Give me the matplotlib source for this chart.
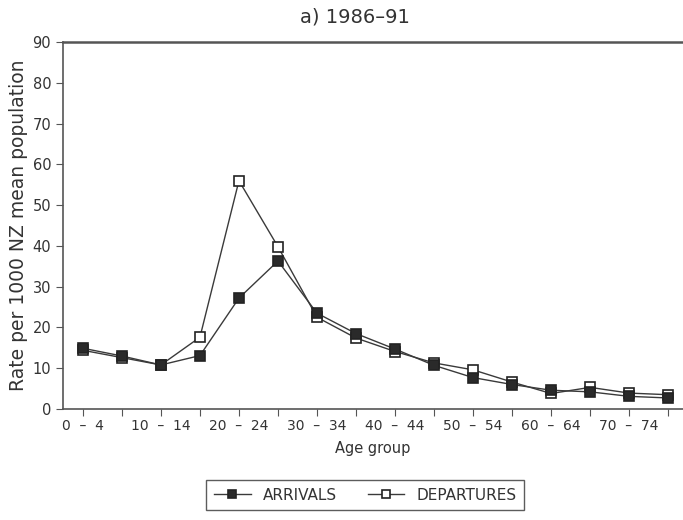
import matplotlib.pyplot as plt
import numpy as np

age_groups = ['0 - 4', '5 - 9', '10 - 14', '15 - 19', '20 - 24', '25 - 29',
              '30 - 34', '35 - 39', '40 - 44', '45 - 49', '50 - 54', '55 - 59',
              '60 - 64', '65 - 69', '70 - 74', '75+']
arrivals = [14.9, 13.0, 10.8, 13.1, 27.2, 36.3, 23.5, 18.5, 14.7, 10.7,
            7.7, 6.0, 4.6, 4.2, 3.1, 2.7]
departures = [14.4, 12.6, 10.8, 17.6, 56.0, 39.8, 22.5, 17.4, 14.1, 11.3,
              9.6, 6.6, 3.8, 5.3, 3.9, 3.5]
# only every other group gets a label
tick_labels = [g.replace(' - ', '  \u2013  ') if i % 2 == 0 and i < 15 else ''
               for i, g in enumerate(age_groups)]

line_col = '#3a3a3a'
fig = plt.figure(figsize=(6.83, 5.2), dpi=100)
ax = fig.add_axes([0.0922, 0.2135, 0.9078, 0.7055])

x = np.arange(len(age_groups))
ax.plot(x, departures, color=line_col, lw=1.0, marker='s', ms=7,
        mfc='white', mec='#222222', mew=1.2, label='DEPARTURES', zorder=3)
ax.plot(x, arrivals, color=line_col, lw=1.0, marker='s', ms=7,
        mfc='#2a2a2a', mec='#222222', mew=1.2, label='ARRIVALS', zorder=4)

ax.set_xlim(-0.51, 15.38)
ax.set_ylim(0, 90)
ax.set_yticks(range(0, 91, 10))
ax.set_xticks(x)
ax.set_xticklabels(tick_labels, fontsize=10, color='#333333')
ax.tick_params(axis='y', labelsize=10.5, labelcolor='#333333', length=5,
               color='#555555')
ax.tick_params(axis='x', length=5, color='#555555', pad=2)
ax.spines['right'].set_visible(False)
ax.spines['top'].set_linewidth(1.8)
ax.spines['top'].set_color('#555555')
for s in ('left', 'bottom'):
    ax.spines[s].set_color('#555555')
    ax.spines[s].set_linewidth(1.2)

ax.set_ylabel('Rate per 1000 NZ mean population', fontsize=13.5,
              color='#333333', labelpad=3)
ax.set_xlabel('Age group', fontsize=10.5, color='#333333', labelpad=6)
fig.text(0.52, 0.968, 'a) 1986\u201391', ha='center', va='center',
         fontsize=14, color='#333333')

h, l = ax.get_legend_handles_labels()
leg = fig.legend(h[::-1], l[::-1], loc='center', bbox_to_anchor=(0.535, 0.048),
                 ncol=2, frameon=True, fancybox=False, edgecolor='#333333',
                 fontsize=11, handlelength=2.4, columnspacing=2.0,
                 borderpad=0.5, markerscale=0.8)
leg.get_frame().set_linewidth(1.0)
for t in leg.get_texts():
    t.set_color('#333333')

fig.savefig('out.png', dpi=100)
